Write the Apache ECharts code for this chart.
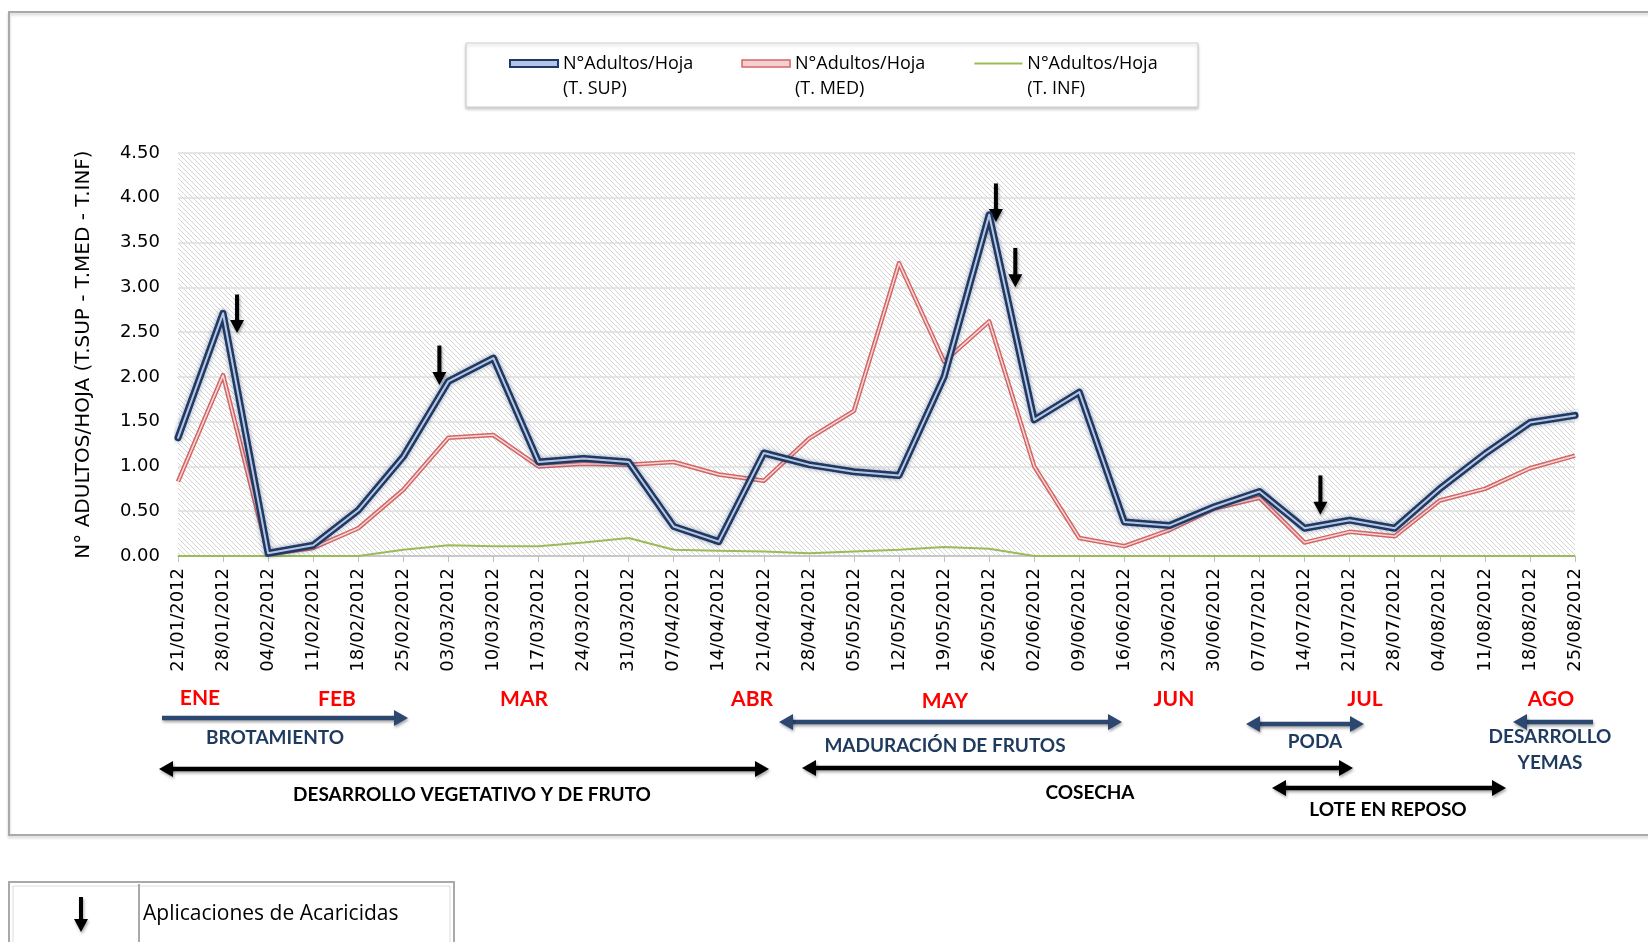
<!DOCTYPE html>
<html lang="es">
<head>
<meta charset="UTF-8">
<title>N° adultos por hoja 2012</title>
<script src="https://cdn.jsdelivr.net/npm/echarts@6/dist/echarts.min.js"></script>
<style>
  html, body { margin: 0; padding: 0; background: #fff; }
  #grafico { width: 1648px; height: 942px; }
</style>
</head>
<body>
<div id="grafico"></div>
<script>
// fechas de muestreo (semanal)
var fechas = ['21/01/2012', '28/01/2012', '04/02/2012', '11/02/2012', '18/02/2012', '25/02/2012',
  '03/03/2012', '10/03/2012', '17/03/2012', '24/03/2012', '31/03/2012', '07/04/2012', '14/04/2012',
  '21/04/2012', '28/04/2012', '05/05/2012', '12/05/2012', '19/05/2012', '26/05/2012', '02/06/2012',
  '09/06/2012', '16/06/2012', '23/06/2012', '30/06/2012', '07/07/2012', '14/07/2012', '21/07/2012',
  '28/07/2012', '04/08/2012', '11/08/2012', '18/08/2012', '25/08/2012'];

var tSup = [1.32, 2.71, 0.03, 0.12, 0.51, 1.11, 1.95, 2.21, 1.05, 1.09, 1.05, 0.33, 0.16, 1.15, 1.02, 0.94,
  0.90, 2.00, 3.81, 1.52, 1.83, 0.38, 0.34, 0.55, 0.72, 0.31, 0.40, 0.31, 0.75, 1.14, 1.49, 1.57];
var tMed = [0.83, 2.02, 0.02, 0.09, 0.31, 0.74, 1.32, 1.35, 1.00, 1.03, 1.02, 1.05, 0.91, 0.84, 1.31, 1.62,
  3.27, 2.17, 2.62, 1.00, 0.20, 0.11, 0.29, 0.53, 0.65, 0.15, 0.27, 0.22, 0.62, 0.75, 0.98, 1.12];
var tInf = [0, 0, 0, 0, 0, 0.07, 0.12, 0.11, 0.11, 0.15, 0.20, 0.07, 0.06, 0.05, 0.03, 0.05,
  0.07, 0.10, 0.08, 0, 0, 0, 0, 0, 0, 0, 0, 0, 0, 0, 0, 0];

var nombres = ['N°Adultos/Hoja (T. SUP)', 'N°Adultos/Hoja (T. MED)', 'N°Adultos/Hoja (T. INF)'];

// aplicaciones de acaricidas: [indice de fecha, valor arriba, valor abajo]
var aplicaciones = [[1.31, 2.92, 2.49], [5.8, 2.35, 1.91], [18.15, 4.16, 3.73], [18.58, 3.44, 3.0], [25.35, 0.90, 0.46]];

var meses = ['ENE', 'FEB', 'MAR', 'ABR', 'MAY', 'JUN', 'JUL', 'AGO'];

var chart = echarts.init(document.getElementById('grafico'));

// trama diagonal del fondo
var trama = document.createElement('canvas');
trama.width = 5; trama.height = 5;
var ctx = trama.getContext('2d');
ctx.fillStyle = '#fff';
ctx.fillRect(0, 0, 5, 5);
ctx.strokeStyle = '#d4d4d4';
ctx.lineWidth = 1;
ctx.beginPath();
ctx.moveTo(0, 0); ctx.lineTo(5, 5);
ctx.moveTo(-1, 4); ctx.lineTo(1, 6);
ctx.moveTo(4, -1); ctx.lineTo(6, 1);
ctx.stroke();

var option = {
  animation: false,
  backgroundColor: '#fff',
  grid: {
    left: 178, right: 73, top: 153, bottom: 386,
    show: true, borderWidth: 0,
    backgroundColor: { image: trama, repeat: 'repeat' }
  },
  legend: {
    left: 509, top: 26, padding: 0,
    itemWidth: 48, itemHeight: 7, itemGap: 48,
    data: [
      { name: nombres[0], icon: 'rect', itemStyle: { color: '#b4c6e7', borderColor: '#1f3864', borderWidth: 2 } },
      { name: nombres[1], icon: 'rect', itemStyle: { color: '#f6d0d0', borderColor: '#d46565', borderWidth: 1.5 } },
      { name: nombres[2], itemStyle: { color: 'rgba(0,0,0,0)', borderWidth: 0, opacity: 0 } }
    ],
    formatter: function (n) { return ' \n' + n.replace(' (', '\n('); },
    textStyle: { fontFamily: 'Open Sans', fontSize: 18, lineHeight: 25, color: '#000' }
  },
  xAxis: {
    type: 'category',
    data: fechas,
    boundaryGap: false,
    axisLine: { lineStyle: { color: '#bfbfbf', width: 1.5 } },
    axisTick: { show: true, interval: 0, length: 6, lineStyle: { color: '#bfbfbf' } },
    axisLabel: { interval: 0, rotate: 90, margin: 12, fontFamily: 'DejaVu Sans', fontSize: 18, color: '#000' }
  },
  yAxis: {
    type: 'value',
    min: 0, max: 4.5, interval: 0.5,
    name: 'N° ADULTOS/HOJA (T.SUP - T.MED - T.INF)',
    nameLocation: 'middle',
    nameGap: 84,
    nameTextStyle: { fontFamily: 'DejaVu Sans', fontSize: 20, color: '#000' },
    axisLine: { show: false },
    axisTick: { show: false },
    axisLabel: {
      formatter: function (v) { return v.toFixed(2); },
      fontFamily: 'DejaVu Sans', fontSize: 18, margin: 18, color: '#000'
    },
    splitLine: { lineStyle: { color: '#dedede', width: 1.5 } }
  },
  series: [
    { name: nombres[2], type: 'line', data: tInf, symbol: 'none', z: 2,
      itemStyle: { color: '#9bbb59' }, lineStyle: { color: '#9bbb59', width: 2 } },
    { name: nombres[1], type: 'line', data: tMed, symbol: 'none', z: 3,
      itemStyle: { color: '#d46565' }, lineStyle: { color: '#d46565', width: 4.5, join: 'round' } },
    { name: 'med_interior', type: 'line', data: tMed, symbol: 'none', z: 3, silent: true,
      lineStyle: { color: '#f8d9d9', width: 1.5, join: 'round' } },
    { name: nombres[0], type: 'line', data: tSup, symbol: 'none', z: 4,
      itemStyle: { color: '#1f3864' },
      lineStyle: { color: '#1f3864', width: 7, cap: 'round', join: 'round', shadowBlur: 5, shadowColor: 'rgba(31,56,100,0.45)' } },
    { name: 'sup_interior', type: 'line', data: tSup, symbol: 'none', z: 4, silent: true,
      lineStyle: { color: '#b8c8e0', width: 2, cap: 'round', join: 'round' } }
  ]
};

chart.setOption(option);

// ---- anotaciones ----
function px(idx, val) {
  var i0 = Math.floor(idx), i1 = Math.min(i0 + 1, fechas.length - 1);
  var p0 = chart.convertToPixel({ gridIndex: 0 }, [i0, val]);
  var p1 = chart.convertToPixel({ gridIndex: 0 }, [i1, val]);
  var f = idx - i0;
  return [p0[0] + (p1[0] - p0[0]) * f, p0[1]];
}

var sombra = { shadowBlur: 3, shadowColor: 'rgba(0,0,0,0.35)', shadowOffsetX: 1, shadowOffsetY: 2 };

function flechaAbajo(x, y1, y2) {
  return {
    type: 'group', z: 20,
    children: [
      { type: 'rect', shape: { x: x - 2, y: y1, width: 4, height: y2 - y1 - 11 }, style: Object.assign({ fill: '#000' }, sombra) },
      { type: 'polygon', shape: { points: [[x - 7, y2 - 13], [x + 7, y2 - 13], [x, y2]] }, style: Object.assign({ fill: '#000' }, sombra) }
    ]
  };
}

function flechaH(x1, x2, y, color, izq, der) {
  var hijos = [
    { type: 'line', shape: { x1: izq ? x1 + 10 : x1, y1: y, x2: der ? x2 - 10 : x2, y2: y },
      style: Object.assign({ stroke: color, lineWidth: 4.5 }, sombra) }
  ];
  if (der) hijos.push({ type: 'polygon', shape: { points: [[x2 - 14, y - 8], [x2, y], [x2 - 14, y + 8]] }, style: Object.assign({ fill: color }, sombra) });
  if (izq) hijos.push({ type: 'polygon', shape: { points: [[x1 + 14, y - 8], [x1, y], [x1 + 14, y + 8]] }, style: Object.assign({ fill: color }, sombra) });
  return { type: 'group', children: hijos };
}

function texto(t, x, y, color, size) {
  return { type: 'text', style: { text: t, x: x, y: y, fill: color, align: 'center', verticalAlign: 'middle',
    font: 'bold ' + (size || 19) + 'px Lato' } };
}

var azul = '#2c4770';
var graficos = [
  // marco general
  { type: 'rect', shape: { x: 9, y: 12, width: 1700, height: 823 },
    style: { fill: 'none', stroke: '#a9a9a9', lineWidth: 2, shadowBlur: 3, shadowColor: 'rgba(0,0,0,0.2)', shadowOffsetY: 2 } },
  // caja de leyenda
  { type: 'rect', z: -1, shape: { x: 466, y: 43, width: 732, height: 64 },
    style: { fill: '#fff', stroke: '#d0d0d0', lineWidth: 1, shadowBlur: 3, shadowColor: 'rgba(0,0,0,0.2)', shadowOffsetY: 2 } },
  // caja inferior
  { type: 'rect', shape: { x: 9, y: 882, width: 445, height: 100 }, style: { fill: 'none', stroke: '#a9a9a9', lineWidth: 2 } },
  { type: 'rect', shape: { x: 13, y: 886, width: 437, height: 100 }, style: { fill: 'none', stroke: '#dcdcdc', lineWidth: 1 } },
  { type: 'line', shape: { x1: 139, y1: 884, x2: 139, y2: 942 }, style: { stroke: '#a9a9a9', lineWidth: 2 } },
  { type: 'text', style: { text: 'Aplicaciones de Acaricidas', x: 143, y: 914, fill: '#000', verticalAlign: 'middle',
    font: '21px "Open Sans"' } },
  flechaAbajo(81, 897, 932)
];

var posMeses = [[200, 698], [337, 699], [524, 699], [752, 699], [945, 701], [1174, 699], [1365, 699], [1551, 699]];
meses.forEach(function (m, i) {
  graficos.push(texto(m, posMeses[i][0], posMeses[i][1], '#ff0000', 21));
});

// etapas fenologicas
graficos.push(flechaH(162, 408, 718, azul, false, true));
graficos.push(texto('BROTAMIENTO', 275, 738, '#1f3a5f'));
graficos.push(flechaH(779, 1122, 722, azul, true, true));
graficos.push(texto('MADURACIÓN DE FRUTOS', 945, 746, '#1f3a5f'));
graficos.push(flechaH(1246, 1364, 724, azul, true, true));
graficos.push(texto('PODA', 1315, 742, '#1f3a5f'));
graficos.push(flechaH(1513, 1593, 722, azul, true, false));
graficos.push(texto('DESARROLLO', 1550, 737, '#1f3a5f'));
graficos.push(texto('YEMAS', 1550, 763, '#1f3a5f'));
graficos.push(flechaH(159, 769, 769, '#000', true, true));
graficos.push(texto('DESARROLLO VEGETATIVO Y DE FRUTO', 472, 795, '#000'));
graficos.push(flechaH(802, 1353, 768, '#000', true, true));
graficos.push(texto('COSECHA', 1090, 793, '#000'));
graficos.push(flechaH(1272, 1506, 788, '#000', true, true));
graficos.push(texto('LOTE EN REPOSO', 1388, 810, '#000'));

aplicaciones.forEach(function (a) {
  var top = px(a[0], a[1]), bot = px(a[0], a[2]);
  graficos.push(flechaAbajo(top[0], top[1], bot[1]));
});

chart.setOption({ graphic: graficos });
</script>
</body>
</html>
